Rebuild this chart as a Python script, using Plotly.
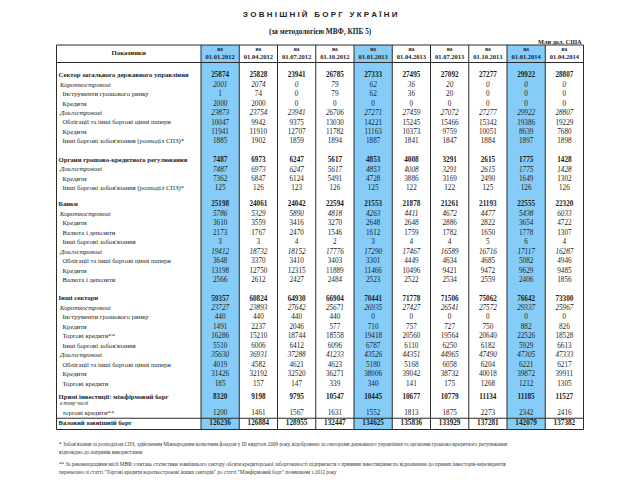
import plotly.graph_objects as go

# ---------------- DATA ----------------
title = "З О В Н І Ш Н І Й\u00a0\u00a0\u00a0Б О Р Г\u00a0\u00a0\u00a0У К Р А Ї Н И"
subtitle = "(за методологією МВФ, КПБ 5)"
unit_note = "Млн дол. США"
header_label = "Показники"
dates = ["01.01.2012", "01.04.2012", "01.07.2012", "01.10.2012", "01.01.2013",
         "01.04.2013", "01.07.2013", "01.10.2013", "01.01.2014", "01.04.2014"]
highlighted = ["01.01.2012", "01.01.2013", "01.01.2014"]

labels = [
    "Сектор загального державного управління",
    "Короткострокові",
    "Інструменти грошового ринку",
    "Кредити",
    "Довгострокові",
    "Облігації та інші боргові цінні папери",
    "Кредити",
    "Інші боргові зобов'язання (розподіл СПЗ)*",
    "Органи грошово-кредитного регулювання",
    "Довгострокові",
    "Кредити",
    "Інші боргові зобов'язання (розподіл СПЗ)*",
    "Банки",
    "Короткострокові",
    "Кредити",
    "Валюта і депозити",
    "Інші боргові зобов'язання",
    "Довгострокові",
    "Облігації та інші боргові цінні папери",
    "Кредити",
    "Валюта і депозити",
    "Інші сектори",
    "Короткострокові",
    "Інструменти грошового ринку",
    "Кредити",
    "Торгові кредити**",
    "Інші боргові зобов'язання",
    "Довгострокові",
    "Облігації та інші боргові цінні папери",
    "Кредити",
    "Торгові кредити",
    "Прямі інвестиції: міжфірмовий борг",
    "в тому числі",
    "торгові кредити**",
    "Валовий зовнішній борг",
]

v_2012_01 = [25874, 2001, 1, 2000, 23873, 10047, 11941, 1885, 7487, 7487, 7362, 125,
             25198, 5786, 3610, 2173, 3, 19412, 3648, 13198, 2566, 59357, 23727, 440,
             1491, 16286, 5510, 35630, 4019, 31426, 185, 8320, None, 1200, 126236]
v_2012_04 = [25828, 2074, 74, 2000, 23754, 9942, 11910, 1902, 6973, 6973, 6847, 126,
             24061, 5329, 3559, 1767, 3, 18732, 3370, 12750, 2612, 60824, 23893, 440,
             2237, 15210, 6006, 36931, 4582, 32192, 157, 9198, None, 1461, 126884]
v_2012_07 = [23941, 0, 0, 0, 23941, 9375, 12707, 1859, 6247, 6247, 6124, 123,
             24042, 5890, 3416, 2470, 4, 18152, 3410, 12315, 2427, 64930, 27642, 440,
             2046, 18744, 6412, 37288, 4621, 32520, 147, 9795, None, 1567, 128955]
v_2012_10 = [26785, 79, 79, 0, 26706, 13030, 11782, 1894, 5617, 5617, 5491, 126,
             22594, 4818, 3270, 1546, 2, 17776, 3403, 11889, 2484, 66904, 25671, 440,
             577, 18558, 6096, 41233, 4623, 36271, 339, 10547, None, 1631, 132447]
v_2013_01 = [27333, 62, 62, 0, 27271, 14221, 11163, 1887, 4853, 4853, 4728, 125,
             21553, 4263, 2648, 1612, 3, 17290, 3301, 11466, 2523, 70441, 26935, 0,
             710, 19418, 6787, 43526, 5180, 38006, 340, 10445, None, 1552, 134625]
v_2013_04 = [27495, 36, 36, 0, 27459, 15245, 10373, 1841, 4008, 4008, 3886, 122,
             21878, 4411, 2648, 1759, 4, 17467, 4449, 10496, 2522, 71778, 27427, 0,
             757, 20560, 6110, 44351, 5168, 39042, 141, 10677, None, 1813, 135836]
v_2013_07 = [27092, 20, 20, 0, 27072, 15466, 9759, 1847, 3291, 3291, 3169, 122,
             21261, 4672, 2886, 1782, 4, 16589, 4634, 9421, 2534, 71506, 26541, 0,
             727, 19564, 6250, 44965, 6058, 38732, 175, 10779, None, 1875, 133929]
v_2013_10 = [27277, 0, 0, 0, 27277, 15342, 10051, 1884, 2615, 2615, 2490, 125,
             21193, 4477, 2822, 1650, 5, 16716, 4685, 9472, 2559, 75062, 27572, 0,
             750, 20640, 6182, 47490, 6204, 40018, 1268, 11134, None, 2273, 137281]
v_2014_01 = [29922, 0, 0, 0, 29922, 19386, 8639, 1897, 1775, 1775, 1649, 126,
             22555, 5438, 3654, 1778, 6, 17117, 5082, 9629, 2406, 76642, 29337, 0,
             882, 22526, 5929, 47305, 6221, 39872, 1212, 11185, None, 2342, 142079]
v_2014_04 = [28807, 0, 0, 0, 28807, 19229, 7680, 1898, 1428, 1428, 1302, 126,
             22320, 6033, 4722, 1307, 4, 16287, 4946, 9485, 1856, 73300, 25967, 0,
             826, 18528, 6613, 47333, 6217, 39911, 1305, 11527, None, 2416, 137382]

columns = [v_2012_01, v_2012_04, v_2012_07, v_2012_10, v_2013_01,
           v_2013_04, v_2013_07, v_2013_10, v_2014_01, v_2014_04]

footnotes = [
    "* Зобов'язання за розподілом СПЗ, здійсненим Міжнародним валютним фондом у ІІІ кварталі 2009 року, відображено за секторами державного управління та органами грошово-кредитного регулювання",
    "відповідно до напрямів використання",
    "** За рекомендаціями місії МВФ з питань статистики зовнішнього сектору обсяги кредиторської заборгованості підприємств з прямими інвестиціями по відношенню до прямих інвесторів-нерезидентів",
    "перенесено зі статті \"Торгові кредити короткострокові інших секторів\" до статті \"Міжфірмовий борг\" починаючи з 2012 року",
]

# ---------------- STYLE / LAYOUT ----------------
# row style: b=bold, i=italic, n=normal, s=small italic note
row_kind = ["b", "i", "n", "n", "i", "n", "n", "n",
            "b", "i", "n", "n",
            "b", "i", "n", "n", "n", "i", "n", "n", "n",
            "b", "i", "n", "n", "n", "n", "i", "n", "n", "n",
            "b", "s", "n", "b"]
STEP = 9.45
extra_step = {8: 18.7, 12: 16.0, 21: 18.5, 31: 13.0, 32: 7.0, 33: 9.5, 34: 9.8}
FIRST_ROW_Y = 75.5

TABLE_L = 56.5
LABEL_W = 144.5
COL_W = 38.25
TOP = 45.0
HEAD_BOT = 62.5
BOTTOM = 429.5
BLUE = "#86CCF8"
LINE = "#2b2b2b"
TXT = "#1c1c1c"
SERIF = "Liberation Serif"
SANS = "Liberation Sans"
FS = 7.2
LFS = 6.7

row_y = []
y = FIRST_ROW_Y
for r in range(len(labels)):
    if r > 0:
        y += extra_step.get(r, STEP)
    row_y.append(y)

def col_left(i):
    return TABLE_L + LABEL_W + i * COL_W

def fmt(v, kind):
    if v is None:
        return ""
    s = str(v)
    if kind == "b":
        return "<b>" + s + "</b>"
    if kind == "i":
        return "<i>" + s + "</i>"
    return s

fig = go.Figure()

# highlighted column backgrounds
for i, d in enumerate(dates):
    if d in highlighted:
        fig.add_shape(type="rect", xref="x", yref="y", x0=col_left(i), x1=col_left(i + 1),
                      y0=TOP, y1=BOTTOM, fillcolor=BLUE, line_width=0, layer="below")

# vertical grid lines
xs = [TABLE_L] + [col_left(i) for i in range(len(dates) + 1)]
for x in xs:
    fig.add_shape(type="line", xref="x", yref="y", x0=x, x1=x, y0=TOP, y1=BOTTOM,
                  line=dict(color=LINE, width=1))
# horizontal lines
sep_total = (row_y[-2] + row_y[-1]) / 2
for yy in [TOP, HEAD_BOT, sep_total, BOTTOM]:
    fig.add_shape(type="line", xref="x", yref="y", x0=TABLE_L, x1=xs[-1], y0=yy, y1=yy,
                  line=dict(color=LINE, width=1))

# labels
indent = {"b": 2.0, "i": 3.5, "n": 6.0, "s": 3.5}
lab_text = []
lab_x = []
lab_size = []
for lab, k in zip(labels, row_kind):
    lab_x.append(TABLE_L + indent[k])
    if k == "b":
        lab_text.append("<b>" + lab + "</b>")
    elif k in ("i", "s"):
        lab_text.append("<i>" + lab + "</i>")
    else:
        lab_text.append(lab)
    lab_size.append(5.3 if k == "s" else LFS)
fig.add_trace(go.Scatter(x=lab_x, y=row_y, mode="text", text=lab_text,
                         textposition="middle right",
                         textfont=dict(family=SERIF, size=lab_size, color=TXT),
                         hoverinfo="skip", showlegend=False))

# values
for i, col in enumerate(columns):
    cx = col_left(i) + COL_W / 2
    fig.add_trace(go.Scatter(x=[cx] * len(col), y=row_y, mode="text",
                             text=[fmt(v, k) for v, k in zip(col, row_kind)],
                             textposition="middle center",
                             textfont=dict(family=SERIF, size=FS, color=TXT),
                             hoverinfo="skip", showlegend=False))

# header
hx = [col_left(i) + COL_W / 2 for i in range(len(dates))]
fig.add_trace(go.Scatter(x=hx, y=[49.5] * len(dates), mode="text", text=["<b>на</b>"] * len(dates),
                         textposition="middle center",
                         textfont=dict(family=SERIF, size=5.3, color=TXT),
                         hoverinfo="skip", showlegend=False))
fig.add_trace(go.Scatter(x=hx, y=[57.0] * len(dates), mode="text",
                         text=["<b>" + d + "</b>" for d in dates],
                         textposition="middle center",
                         textfont=dict(family=SERIF, size=6.5, color=TXT),
                         hoverinfo="skip", showlegend=False))
fig.add_trace(go.Scatter(x=[TABLE_L + LABEL_W / 2], y=[53.5], mode="text",
                         text=["<b>" + header_label + "</b>"],
                         textposition="middle center",
                         textfont=dict(family=SERIF, size=6.8, color=TXT),
                         hoverinfo="skip", showlegend=False))

annots = [
    dict(x=320, y=14, text="<b>" + title + "</b>", font=dict(family=SANS, size=8, color="#222"),
         xanchor="center"),
    dict(x=320, y=31, text="<b>" + subtitle + "</b>", font=dict(family=SERIF, size=7.3, color="#222"),
         xanchor="center"),
    dict(x=xs[-1], y=41.5, text="<b>" + unit_note + "</b>", font=dict(family=SERIF, size=6.3, color="#222"),
         xanchor="right"),
]
foot_y = [444, 452, 464, 472]
for t, fy in zip(footnotes, foot_y):
    annots.append(dict(x=TABLE_L, y=fy, text=t, font=dict(family=SERIF, size=5.2, color="#333"),
                       xanchor="left"))
for a in annots:
    a.update(xref="x", yref="y", showarrow=False, yanchor="middle")

fig.update_layout(
    width=640, height=480,
    margin=dict(l=0, r=0, t=0, b=0),
    paper_bgcolor="white", plot_bgcolor="white",
    xaxis=dict(range=[0, 640], visible=False, fixedrange=True, domain=[0, 1]),
    yaxis=dict(range=[480, 0], visible=False, fixedrange=True, domain=[0, 1]),
    annotations=annots,
    showlegend=False,
)

fig.write_html("out.html", config={"displayModeBar": False},
               post_script="document.body.style.margin='0px';")
